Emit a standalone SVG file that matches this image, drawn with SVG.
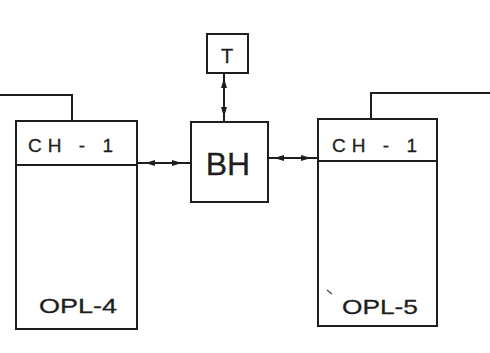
<svg xmlns="http://www.w3.org/2000/svg" width="490" height="353" viewBox="0 0 490 353">
<defs>
<style>
.b{fill:none;stroke:#1e1e1e;stroke-width:2}
.t{font-family:"Liberation Sans",Arial,sans-serif;fill:#1e1e1e;stroke:#1e1e1e;stroke-width:0.3}
.c{fill:none;stroke:#1e1e1e;stroke-width:2}
</style>
<marker id="ah" viewBox="0 0 10 6" refX="10" refY="3" markerWidth="10" markerHeight="6" markerUnits="userSpaceOnUse" orient="auto-start-reverse">
<path d="M0,0 L10,3 L0,6 Z" fill="#1e1e1e"/>
</marker>
</defs>
<rect width="490" height="353" fill="#fff"/>
<g id="connectors">
<polyline class="c" points="0,95 72,95 72,121"/>
<polyline class="c" points="371,119 371,93 490,93"/>
<line class="c" x1="137" y1="163" x2="191" y2="163"/>
<line class="c" x1="145" y1="163" x2="163" y2="163" marker-end="url(#ah)" transform="rotate(180 154 163)"/>
<line class="c" x1="166" y1="163" x2="182" y2="163" marker-end="url(#ah)"/>
<line class="c" x1="268" y1="158" x2="318" y2="158"/>
<line class="c" x1="274" y1="158" x2="292" y2="158" marker-end="url(#ah)" transform="rotate(180 283 158)"/>
<line class="c" x1="294" y1="158" x2="311" y2="158" marker-end="url(#ah)"/>
<line class="c" x1="224" y1="73" x2="224" y2="122"/>
<line class="c" x1="224" y1="78" x2="224" y2="98" marker-end="url(#ah)" transform="rotate(180 224 88)"/>
<line class="c" x1="224" y1="99" x2="224" y2="117" marker-end="url(#ah)"/>
</g>
<g id="opl4">
<rect class="b" x="16" y="121" width="121" height="208"/>
<line class="b" x1="16" y1="165" x2="137" y2="165"/>
<text class="t" x="28" y="152" font-size="19" textLength="85" lengthAdjust="spacing">CH - 1</text>
<text class="t" x="39" y="313" font-size="21" textLength="78" lengthAdjust="spacingAndGlyphs">OPL-4</text>
</g>
<g id="bh">
<rect class="b" x="191" y="122" width="77" height="80"/>
<text class="t" x="228" y="175" font-size="32" text-anchor="middle">BH</text>
</g>
<g id="t">
<rect class="b" x="207" y="34" width="41" height="39"/>
<text class="t" x="227" y="63" font-size="20" text-anchor="middle">T</text>
</g>
<g id="opl5">
<rect class="b" x="318" y="119" width="119" height="207"/>
<line class="b" x1="318" y1="161" x2="437" y2="161"/>
<text class="t" x="332" y="152" font-size="19" textLength="85" lengthAdjust="spacing">CH - 1</text>
<text class="t" x="342" y="314" font-size="21" textLength="76" lengthAdjust="spacingAndGlyphs">OPL-5</text>
<line x1="327" y1="290" x2="332" y2="294" stroke="#444" stroke-width="1.2"/>
</g>
</svg>
